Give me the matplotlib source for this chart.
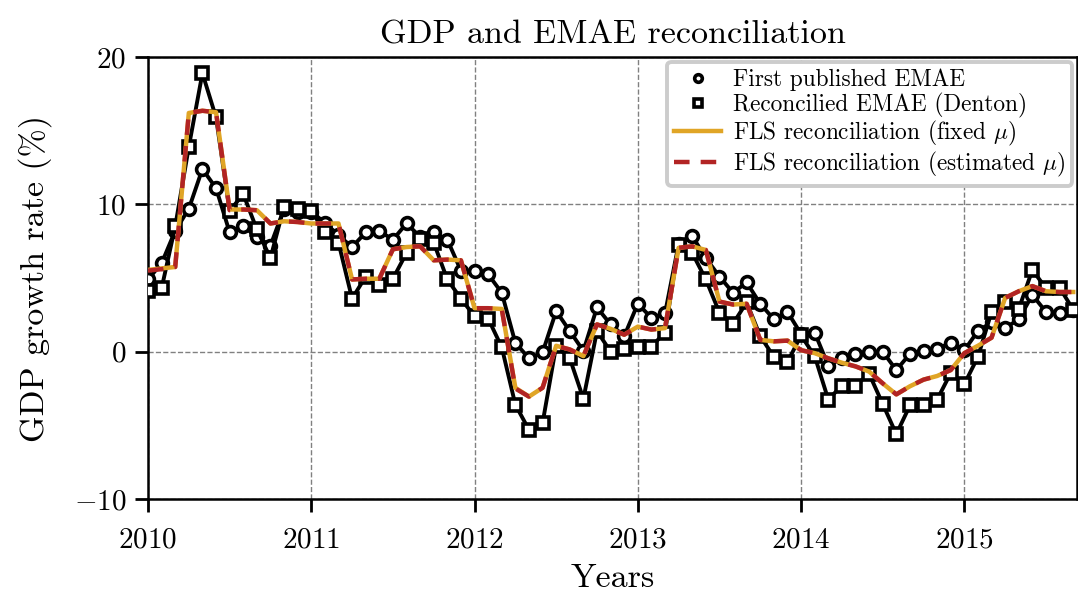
import numpy as np
import matplotlib
matplotlib.use("Agg")
import matplotlib.pyplot as plt
from matplotlib.lines import Line2D

plt.rcParams["font.family"] = ["cmr10", "DejaVu Serif"]
plt.rcParams["mathtext.fontset"] = "cm"
plt.rcParams["axes.formatter.use_mathtext"] = True
plt.rcParams["axes.unicode_minus"] = True

# monthly observations, Jan 2010 .. Sep 2015
start_year = 2010
first_published = [4.9, 6.0, 8.2, 9.7, 12.4, 11.1, 8.1, 8.5, 7.8, 7.2, 9.7, 9.45,
                   9.5, 8.75, 7.9, 7.1, 8.1, 8.2, 7.6, 8.7, 7.8, 8.1, 7.6, 5.5,
                   5.5, 5.25, 4.0, 0.6, -0.45, -0.05, 2.75, 1.4, 0.05, 3.0, 1.85, 1.05,
                   3.25, 2.3, 2.6, 7.3, 7.85, 6.35, 5.1, 4.0, 4.7, 3.25, 2.2, 2.7,
                   1.2, 1.3, -0.95, -0.45, -0.15, 0.0, 0.0, -1.25, -0.15, 0.05, 0.2, 0.6,
                   0.1, 1.4, 2.0, 1.6, 2.2, 3.85, 2.7, 2.6, 2.8]
denton = [4.1, 4.3, 8.5, 13.9, 18.9, 15.9, 9.55, 10.7, 8.3, 6.35, 9.85, 9.7,
          9.55, 8.15, 7.4, 3.6, 5.1, 4.55, 4.95, 6.7, 7.65, 7.4, 4.9, 3.6,
          2.4, 2.25, 0.3, -3.6, -5.3, -4.85, 0.4, -0.45, -3.2, 1.4, 0.0, 0.15,
          0.3, 0.35, 1.3, 7.25, 6.7, 4.9, 2.65, 1.9, 3.35, 1.05, -0.35, -0.7,
          1.1, -0.3, -3.25, -2.3, -2.3, -1.5, -3.55, -5.6, -3.65, -3.6, -3.25, -1.45,
          -2.2, -0.35, 2.7, 3.4, 2.9, 5.55, 4.3, 4.35, 2.85]
fls_fixed = [5.55, 5.65, 5.75, 16.2, 16.35, 16.25, 9.65, 9.65, 9.6, 8.7, 8.85, 8.8,
             8.7, 8.7, 8.7, 4.9, 4.95, 4.95, 6.95, 7.1, 7.15, 6.2, 6.25, 6.2,
             2.95, 2.95, 2.9, -2.45, -3.05, -2.45, 0.4, 0.15, -0.3, 1.85, 1.55, 1.15,
             1.7, 1.5, 1.6, 7.05, 7.15, 6.9, 3.4, 3.2, 3.25, 0.8, 0.7, 0.75,
             0.1, -0.1, -0.45, -0.75, -1.0, -1.35, -2.15, -2.9, -2.35, -1.9, -1.65, -1.25,
             -0.1, 0.4, 0.95, 3.65, 4.1, 4.45, 4.1, 4.05, 4.05]
fls_estimated = [5.5, 5.6, 5.75, 16.2, 16.35, 16.25, 9.6, 9.65, 9.6, 8.7, 8.85, 8.8,
                 8.7, 8.7, 8.7, 4.9, 4.95, 4.95, 6.95, 7.1, 7.15, 6.2, 6.25, 6.2,
                 2.95, 2.95, 2.9, -2.5, -3.05, -2.45, 0.4, 0.15, -0.3, 1.85, 1.55, 1.15,
                 1.7, 1.5, 1.6, 7.05, 7.15, 6.9, 3.4, 3.2, 3.25, 0.8, 0.7, 0.75,
                 0.1, -0.1, -0.45, -0.75, -1.0, -1.35, -2.15, -2.9, -2.35, -1.9, -1.65, -1.25,
                 -0.1, 0.4, 0.95, 3.65, 4.1, 4.45, 4.1, 4.05, 4.05]
years = start_year + np.arange(len(first_published)) / 12.0

fig = plt.figure(figsize=(10.78, 5.97), dpi=100)
ax = fig.add_axes([148 / 1078, 1 - 499 / 597, (1077 - 148) / 1078, (499 - 57) / 597])

ax.plot(years, first_published, color="black", lw=2.8, marker="o", ms=8.5,
        mfc="white", mec="black", mew=2.6, zorder=3)
ax.plot(years, denton, color="black", lw=2.8, marker="s", ms=8.5,
        mfc="white", mec="black", mew=2.6, zorder=3)
ax.plot(years, fls_fixed, color="#E0A526", lw=3.2, zorder=4)
ax.plot(years, fls_estimated, color="#B22424", lw=3.2, ls=(0, (3.5, 2.5)), zorder=5)

ax.set_xlim(2010, 2015.69)
ax.set_ylim(-10, 20)
ax.set_xticks([2010, 2011, 2012, 2013, 2014, 2015])
ax.set_yticks([-10, 0, 10, 20])
ax.grid(True, color="gray", ls="--", lw=1.0)
ax.set_axisbelow(True)
for s in ax.spines.values():
    s.set_linewidth(1.8)
ax.tick_params(labelsize=21, width=2.0, length=9.5)
ax.tick_params(axis="x", pad=11)
ax.tick_params(axis="y", pad=6)

ax.set_title("GDP and EMAE reconciliation", fontsize=24.5, pad=10)
ax.set_xlabel("Years", fontsize=24.5, labelpad=7)
ax.set_ylabel("GDP growth rate (%)", fontsize=24.5, labelpad=16)

handles = [
    Line2D([], [], ls="none", marker="o", ms=5.5, mfc="white", mec="black", mew=2.6),
    Line2D([], [], ls="none", marker="s", ms=5.5, mfc="white", mec="black", mew=2.6),
    Line2D([], [], color="#E0A526", lw=3.2),
    Line2D([], [], color="#B22424", lw=3.2, ls=(0, (3.5, 2.5))),
]
labels = ["First published EMAE", "Reconcilied EMAE (Denton)",
          r"FLS reconciliation (fixed $\mu$)", r"FLS reconciliation (estimated $\mu$)"]
leg = ax.legend(handles, labels, loc="upper right", fontsize=16.8, framealpha=1,
                edgecolor="#cccccc", handlelength=2.0, handletextpad=0.5,
                borderpad=0.3, labelspacing=0.06, borderaxespad=0.2)
leg.get_frame().set_linewidth(2.8)

fig.savefig("out.png", dpi=100)
